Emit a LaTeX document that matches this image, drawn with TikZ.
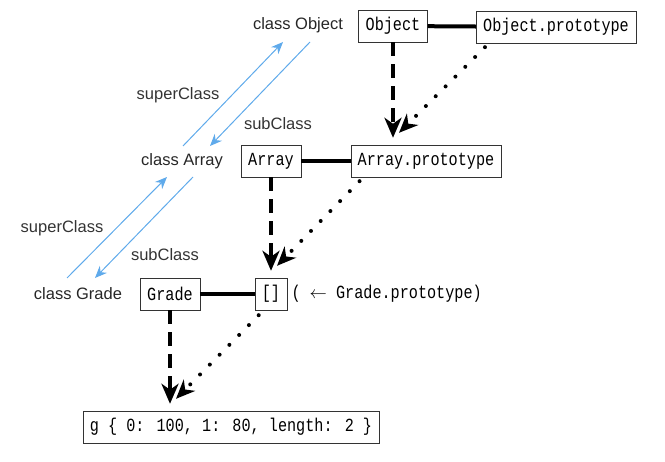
\documentclass[tikz,border=0pt]{standalone}
\usepackage{fontspec}
\setmainfont{Liberation Sans}
\newfontfamily\codefont[FakeStretch=0.82]{Liberation Mono}
\usepackage{xcolor}
\usetikzlibrary{arrows.meta, positioning, calc}
\definecolor{chainblue}{RGB}{95,170,235}
\tikzset{
    codebox/.style={draw=black!80, thin, font=\codefont\fontsize{18.5}{20}\selectfont, inner xsep=7pt, minimum height=32pt}, % a box with code in it
    clsname/.style={font=\fontsize{16.5}{19}\selectfont, text=black!85, inner sep=0pt}, % the class names on the left
    chainlabel/.style={font=\fontsize{16.5}{19}\selectfont, text=black!80, inner sep=0pt},
    link/.style={line width=4pt}, % a class and its prototype
    inherit/.style={-{Stealth[length=20pt,width=17pt,inset=6pt]}, line width=4.5pt, dash pattern=on 14pt off 8pt},
    protolink/.style={-{Stealth[length=19pt,width=16pt,inset=6pt]}, line width=4pt, line cap=round, dash pattern=on 0pt off 13.9pt},
    chain/.style={-{Stealth[length=12pt,width=10pt]}, chainblue, line width=1pt},
}

\begin{document}
\begin{tikzpicture}[x=1pt, y=-1pt]
    \useasboundingbox (0,0) rectangle (665,462);

    % class names
    \node[clsname] (ObjCls) at (298,25) {class Object};
    \node[clsname] (ArrCls) at (182,161) {class Array};
    \node[clsname] (GrdCls) at (78,294) {class Grade};

    % boxes
    \node[codebox] (Obj) at (393,26) {Object};
    \node[codebox] (ObjProto) at (556,27) {Object.prototype};
    \node[codebox] (Arr) at (271,161) {Array};
    \node[codebox] (ArrProto) at (426,161) {Array.prototype};
    \node[codebox] (Grd) at (170,294) {Grade};
    \node[codebox] (Brk) at (271,294) {[]};
    \node[right=4pt of Brk, inner sep=0pt, font=\codefont\fontsize{18.5}{20}\selectfont] (BrkNote) {( $\leftarrow$ Grade.prototype)};
    \node[codebox] (Inst) at (231,427) {g \{ 0: 100, 1: 80, length: 2 \}};

    % class to prototype
    \draw[link] (Obj) -- (ObjProto);
    \draw[link] (Arr) -- (ArrProto);
    \draw[link] (Grd) -- (Brk);

    % where the dotted arrows stop
    \coordinate (hitA) at ($(Obj |- ArrProto.north)+(6,-12)$);
    \coordinate (hitB) at ($(Arr |- Brk.north)+(6,-12)$);
    \coordinate (hitC) at ($(Grd |- Inst.north)+(6,-12)$);

    \draw[inherit, shorten >=7pt] (Obj) -- (Obj |- ArrProto.north);
    \draw[inherit, shorten >=7pt] (Arr) -- (Arr |- Brk.north);
    \draw[inherit, shorten >=7pt] (Grd) -- (Grd |- Inst.north);

    \draw[protolink] ($(ObjProto.south west)+(9,4)$) -- (hitA);
    \draw[protolink] ($(ArrProto.south west)+(9,4)$) -- (hitB);
    \draw[protolink] ($(Brk.south west)+(4,5)$) -- (hitC);

    % superClass / subClass
    \draw[chain] ($(ArrCls)+(1,-15)$) -- ($(ObjCls)+(-15,17)$);
    \draw[chain] ($(ObjCls)+(12,17)$) -- ($(ArrCls)+(28,-15)$);
    \draw[chain] ($(GrdCls)+(-11,-16)$) -- ($(ArrCls)+(-15,16)$);
    \draw[chain] ($(ArrCls)+(11,16)$) -- ($(GrdCls)+(17,-16)$);

    \node[chainlabel] (SupA) at (178,95) {superClass};
    \node[chainlabel] (SubA) at (278,124) {subClass};
    \node[chainlabel] (SupB) at (62,228) {superClass};
    \node[chainlabel] (SubB) at (165,255) {subClass};
\end{tikzpicture}
\end{document}
